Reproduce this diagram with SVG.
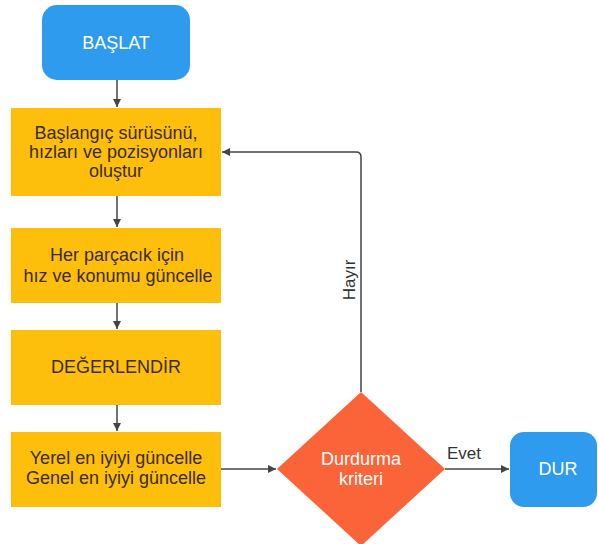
<svg xmlns="http://www.w3.org/2000/svg" width="598" height="544" viewBox="0 0 598 544">
<defs>
<style>
.blue{fill:#2f9bef}
.yel{fill:#fdbf0c}
.dia{fill:#fb6438}
.t{font-family:"Liberation Sans",Arial,sans-serif;font-size:18px;text-anchor:middle;dominant-baseline:central}
.dk{fill:#3b2b12}
.wh{fill:#ffffff}
.ln{stroke:#444;stroke-width:1.5;fill:none}
.lbl{font-family:"Liberation Sans",Arial,sans-serif;font-size:17px;fill:#333}
</style>
<marker id="ah" viewBox="0 0 10 10" refX="10" refY="5" markerWidth="8" markerHeight="8" markerUnits="userSpaceOnUse" orient="auto">
<path d="M0,0 L10,5 L0,10 z" fill="#444"/>
</marker>
</defs>
<rect width="598" height="544" fill="#ffffff"/>
<g id="connectors">
<line class="ln" x1="117" y1="80" x2="117" y2="107" marker-end="url(#ah)"/>
<line class="ln" x1="117" y1="196" x2="117" y2="227" marker-end="url(#ah)"/>
<line class="ln" x1="117" y1="303" x2="117" y2="329" marker-end="url(#ah)"/>
<line class="ln" x1="117" y1="405" x2="117" y2="431" marker-end="url(#ah)"/>
<line class="ln" x1="221" y1="469" x2="276" y2="469" marker-end="url(#ah)"/>
<line class="ln" x1="445" y1="469" x2="509" y2="469" marker-end="url(#ah)"/>
<path class="ln" d="M361,392 V157 Q361,152 356,152 H222" marker-end="url(#ah)"/>
<text class="lbl" x="464" y="459" text-anchor="middle">Evet</text>
<text class="lbl" transform="translate(349,280) rotate(-90)" text-anchor="middle" dominant-baseline="central">Hayır</text>
</g>
<g id="start">
<rect class="blue" x="42" y="5" width="148" height="75" rx="15"/>
<text class="t wh" x="116" y="43">BAŞLAT</text>
</g>
<g id="init">
<rect class="yel" x="11" y="108" width="210" height="88"/>
<text class="t dk" x="116" y="133">Başlangıç sürüsünü,</text>
<text class="t dk" x="116" y="152">hızları ve pozisyonları</text>
<text class="t dk" x="116" y="171">oluştur</text>
</g>
<g id="update">
<rect class="yel" x="11" y="228" width="210" height="75"/>
<text class="t dk" x="117" y="255">Her parçacık için</text>
<text class="t dk" x="118" y="276">hız ve konumu güncelle</text>
</g>
<g id="evaluate">
<rect class="yel" x="11" y="330" width="210" height="75"/>
<text class="t dk" x="116" y="367">DEĞERLENDİR</text>
</g>
<g id="best">
<rect class="yel" x="11" y="432" width="210" height="75"/>
<text class="t dk" x="116" y="458">Yerel en iyiyi güncelle</text>
<text class="t dk" x="116" y="478">Genel en iyiyi güncelle</text>
</g>
<g id="criterion">
<polygon class="dia" points="361,392 445,469 361,546 277,469"/>
<text class="t wh" x="361" y="459" font-size="16.5">Durdurma</text>
<text class="t wh" x="361" y="479" font-size="16.5">kriteri</text>
</g>
<g id="stop">
<rect class="blue" x="510" y="432" width="87" height="75" rx="14"/>
<text class="t wh" x="558" y="469">DUR</text>
</g>
</svg>
